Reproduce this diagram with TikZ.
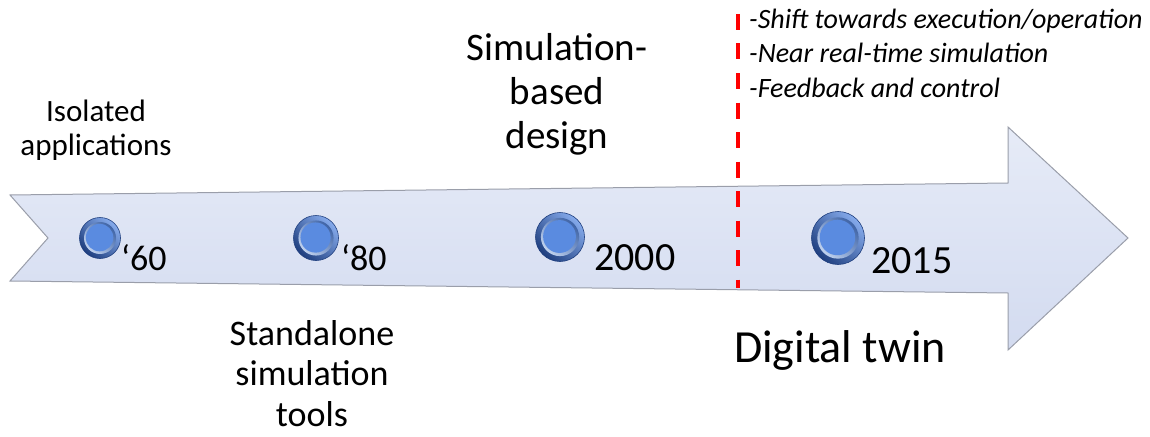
\documentclass[tikz,border=0pt]{standalone}
\usepackage{fontspec}
\setmainfont{Carlito}
\usetikzlibrary{calc}

\definecolor{arrowtop}{HTML}{E6EBF7}
\definecolor{arrowbot}{HTML}{D3DBF0}
\definecolor{arrowedge}{HTML}{9A9EAA}
\definecolor{btnlight}{HTML}{86ABEC}
\definecolor{btndark}{HTML}{1F3F7F}
\definecolor{btnbevdark}{HTML}{2C549C}
\definecolor{btnbevlight}{HTML}{D2E1F8}
\definecolor{btnface}{HTML}{5A8BE0}
\definecolor{markred}{HTML}{FF0000}

\tikzset{
  arrowbody/.style={top color=arrowtop, bottom color=arrowbot, draw=arrowedge, line width=1pt, line join=miter},
  button/.style={circle, inner sep=0pt, outer sep=0pt, minimum size=#1*1pt,
    left color=btnlight, right color=btndark, shading angle=-45,
    draw=btndark, line width=0.6pt,
    path picture={
      \shade[left color=btnbevdark, right color=btnbevlight, shading angle=-45]
        (path picture bounding box.center) circle[radius=0.39*#1];
      \fill[btnface] ([shift={(-0.01*#1,-0.01*#1)}]path picture bounding box.center) circle[radius=0.335*#1];
    }},
  year/.style={anchor=base west, inner sep=0pt, font=\fontsize{#1}{#1}\selectfont},
  label/.style={anchor=base, inner sep=0pt, align=center},
  note/.style={anchor=base west, inner sep=0pt, font=\fontsize{28}{28}\selectfont\itshape},
  marker/.style={markred, line width=3.5pt, dash pattern=on 16pt off 13.5pt}
}

\begin{document}
\begin{tikzpicture}[x=1pt,y=-1pt]
\useasboundingbox (0,0) rectangle (1150,436);

% timeline arrow with notched tail
\path[arrowbody] (10,195) -- (48,238) -- (10,281) -- (1008,293) -- (1008,350)
  -- (1128,238) -- (1008,127) -- (1008,183) -- cycle;

% milestone buttons
\node[button=41] (b60)   at (100,238) {};
\node[button=45] (b80)   at (316,238) {};
\node[button=49] (b2000) at (560,237) {};
\node[button=53] (b2015) at (838,238) {};

% years
\node[year=36] (y60)   at (121,270) {‘60};
\node[year=36] (y80)   at (341,270) {‘80};
\node[year=40] (y2000) at (594,270) {2000};
\node[year=40] (y2015) at (871,273) {2015};

% phase labels (anchored at the baseline of the last line)
\node[label, font=\fontsize{31}{34}\selectfont] (iso) at (96,155) {Isolated\\applications};
\node[label, font=\fontsize{36}{40.5}\selectfont] (std) at (312,426) {Standalone\\simulation\\tools};
\node[label, font=\fontsize{39}{44}\selectfont] (sbd) at (557,148) {Simulation-\\based\\design};
\node[label, font=\fontsize{46}{46}\selectfont] (dt) at (840,362) {Digital twin};

% boundary of the digital twin era
\coordinate (mtop) at (738,14);
\coordinate (mbot) at (738,288);
\draw[marker] (mtop) -- (mbot);

% characteristics of the digital twin era
\node[note] (n1) at (749,29) {-Shift towards execution/operation};
\node[note] (n2) at (749,63) {-Near real-time simulation};
\node[note] (n3) at (749,97) {-Feedback and control};
\end{tikzpicture}
\end{document}
